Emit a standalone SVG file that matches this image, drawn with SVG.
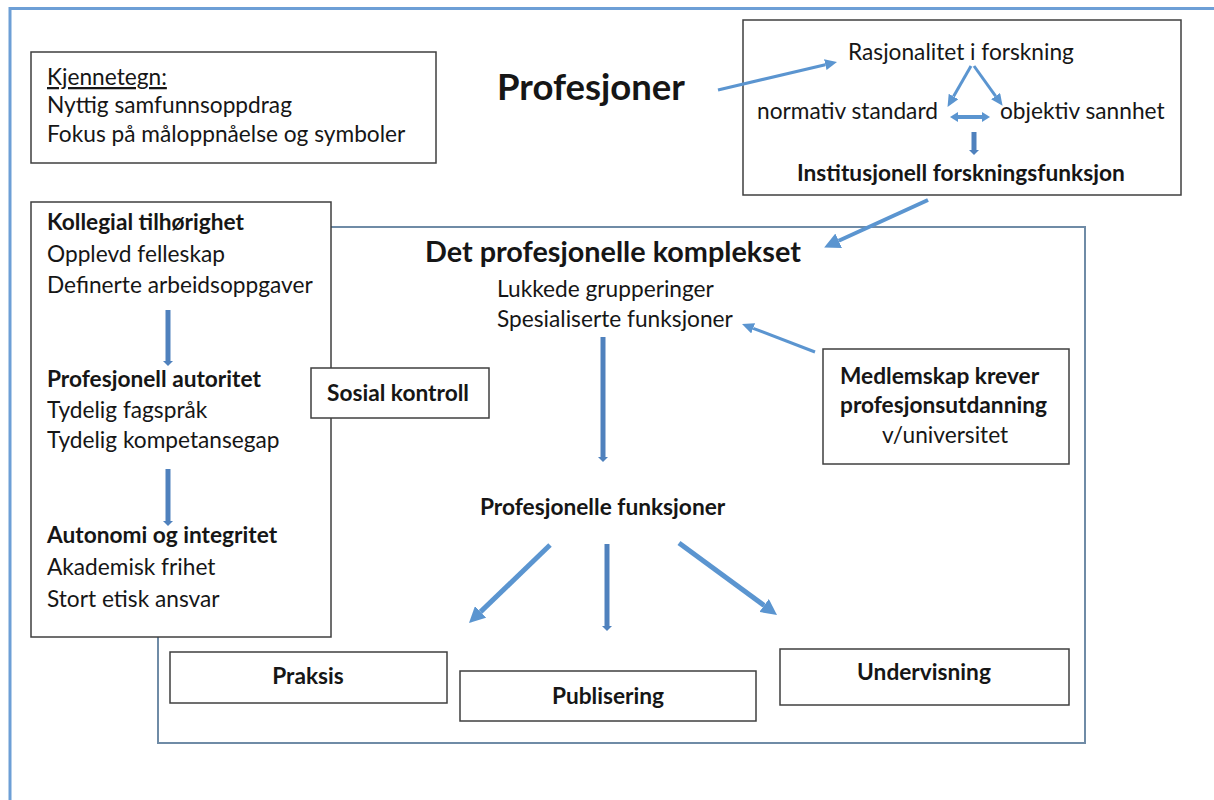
<svg xmlns="http://www.w3.org/2000/svg" width="1214" height="800" viewBox="0 0 1214 800">
  <style>
    .bg { fill: #ffffff; }
    .frame { stroke: #6d9fd6; stroke-width: 3; fill: none; }
    .box { fill: #ffffff; stroke: #3f3f3f; stroke-width: 1.5; }
    .complex { fill: #ffffff; stroke: #6f8ba6; stroke-width: 2; }
    text { font-family: Lato, "Liberation Sans", sans-serif; fill: #161616; font-size: 22.7px; }
    .b { font-weight: bold; }
    .mid { text-anchor: middle; }
    .title { font-size: 28.8px; font-weight: bold; }
    .big { font-size: 36.5px; font-weight: bold; }
    .arw { stroke: #5b95d0; fill: none; stroke-linecap: butt; }
    .thk { stroke: #4f81bd; fill: none; stroke-linecap: butt; }
  </style>
  <defs>
    <marker id="ah-m" markerUnits="userSpaceOnUse" viewBox="0 0 12 11" markerWidth="12" markerHeight="11" refX="0" refY="5.5" orient="auto">
      <path d="M0,0 L12,5.5 L0,11 z" fill="#5b95d0"/>
    </marker>
    <marker id="ah-l" markerUnits="userSpaceOnUse" viewBox="0 0 16 16" markerWidth="16" markerHeight="16" refX="0" refY="8" orient="auto">
      <path d="M0,0 L16,8 L0,16 z" fill="#5b95d0"/>
    </marker>
    <marker id="ah-s" markerUnits="userSpaceOnUse" viewBox="0 0 5 10" markerWidth="5" markerHeight="10" refX="0" refY="5" orient="auto">
      <path d="M0,0 L5,5 L0,10 z" fill="#4f81bd"/>
    </marker>
    <marker id="ah-d" markerUnits="userSpaceOnUse" viewBox="0 0 8 10" markerWidth="8" markerHeight="10" refX="0" refY="5" orient="auto-start-reverse">
      <path d="M0,0 L8,5 L0,10 z" fill="#5b95d0"/>
    </marker>
  </defs>

  <rect class="bg" x="0" y="0" width="1214" height="800"/>
  <!-- page frame: top and left edges -->
  <path class="frame" d="M10,800 L10,8.5 L1214,8.5"/>

  <!-- large grey-blue frame of the professional complex -->
  <g id="complex">
    <rect class="complex" x="158" y="227" width="927" height="516"/>
    <text class="title" x="425" y="262">Det profesjonelle komplekset</text>
    <text x="497" y="297">Lukkede grupperinger</text>
    <text x="497" y="327">Spesialiserte funksjoner</text>
  </g>

  <g id="kjennetegn">
    <rect class="box" x="31" y="52" width="405" height="111"/>
    <text x="47" y="85" text-decoration="underline">Kjennetegn:</text>
    <text x="47" y="113">Nyttig samfunnsoppdrag</text>
    <text x="47" y="142">Fokus på måloppnåelse og symboler</text>
  </g>

  <g id="profesjoner">
    <text class="big" x="497" y="100">Profesjoner</text>
  </g>

  <g id="forskning">
    <rect class="box" x="743" y="20" width="438" height="175"/>
    <text x="848" y="60">Rasjonalitet i forskning</text>
    <text x="757" y="119">normativ standard</text>
    <text x="1000" y="119">objektiv sannhet</text>
    <text class="b" x="797" y="181">Institusjonell forskningsfunksjon</text>
  </g>

  <g id="kollegial">
    <rect class="box" x="31" y="202" width="300" height="435"/>
    <text class="b" x="47" y="230">Kollegial tilhørighet</text>
    <text x="47" y="262">Opplevd felleskap</text>
    <text x="47" y="293">Definerte arbeidsoppgaver</text>
    <text class="b" x="47" y="387">Profesjonell autoritet</text>
    <text x="47" y="418">Tydelig fagspråk</text>
    <text x="47" y="448">Tydelig kompetansegap</text>
    <text class="b" x="47" y="543">Autonomi og integritet</text>
    <text x="47" y="575">Akademisk frihet</text>
    <text x="47" y="607">Stort etisk ansvar</text>
  </g>

  <g id="sosial-kontroll">
    <rect class="box" x="311" y="368" width="178" height="50"/>
    <text class="b mid" x="398" y="401">Sosial kontroll</text>
  </g>

  <g id="medlemskap">
    <rect class="box" x="823" y="349" width="246" height="115"/>
    <text class="b" x="840" y="384">Medlemskap krever</text>
    <text class="b" x="840" y="413">profesjonsutdanning</text>
    <text x="882" y="443">v/universitet</text>
  </g>

  <g id="funksjoner">
    <text class="b" x="480" y="515">Profesjonelle funksjoner</text>
  </g>

  <g id="praksis">
    <rect class="box" x="170" y="652" width="277" height="51"/>
    <text class="b mid" x="308" y="684">Praksis</text>
  </g>

  <g id="publisering">
    <rect class="box" x="460" y="671" width="296" height="50"/>
    <text class="b mid" x="608" y="704">Publisering</text>
  </g>

  <g id="undervisning">
    <rect class="box" x="780" y="649" width="289" height="56"/>
    <text class="b mid" x="924" y="680">Undervisning</text>
  </g>

  <g id="connectors">
    <!-- Profesjoner to research rationality -->
    <line class="arw" stroke-width="3" x1="718" y1="90" x2="825.3" y2="64.7" marker-end="url(#ah-m)"/>
    <!-- rationality splits into the two ideals -->
    <line class="arw" stroke-width="3" x1="971" y1="66" x2="953.5" y2="96.5" marker-end="url(#ah-m)"/>
    <line class="arw" stroke-width="3" x1="974" y1="66" x2="995.6" y2="96.1" marker-end="url(#ah-m)"/>
    <!-- two-way link between the ideals -->
    <line class="arw" stroke-width="4" x1="958" y1="117" x2="982" y2="117" marker-start="url(#ah-d)" marker-end="url(#ah-d)"/>
    <!-- down to the institutional function -->
    <line class="thk" stroke-width="5" x1="974" y1="132" x2="974" y2="150" marker-end="url(#ah-s)"/>
    <!-- research function into the complex -->
    <line class="arw" stroke-width="4" x1="928" y1="200" x2="838.7" y2="240.8" marker-end="url(#ah-l)"/>
    <!-- membership requirement to specialised functions -->
    <line class="arw" stroke-width="3" x1="815" y1="352" x2="753.2" y2="328.3" marker-end="url(#ah-m)"/>
    <!-- complex down to professional functions -->
    <line class="thk" stroke-width="5" x1="603" y1="337" x2="603" y2="457" marker-end="url(#ah-s)"/>
    <!-- steps inside the collegial box -->
    <line class="thk" stroke-width="5" x1="168" y1="310" x2="168" y2="361" marker-end="url(#ah-s)"/>
    <line class="thk" stroke-width="5" x1="168" y1="469" x2="168" y2="521" marker-end="url(#ah-s)"/>
    <!-- professional functions to the three outputs -->
    <line class="arw" stroke-width="5" x1="550" y1="545" x2="480.5" y2="611.9" marker-end="url(#ah-l)"/>
    <line class="thk" stroke-width="5" x1="607" y1="544" x2="607" y2="626" marker-end="url(#ah-s)"/>
    <line class="arw" stroke-width="5" x1="679" y1="543" x2="764.1" y2="605.5" marker-end="url(#ah-l)"/>
  </g>
</svg>
